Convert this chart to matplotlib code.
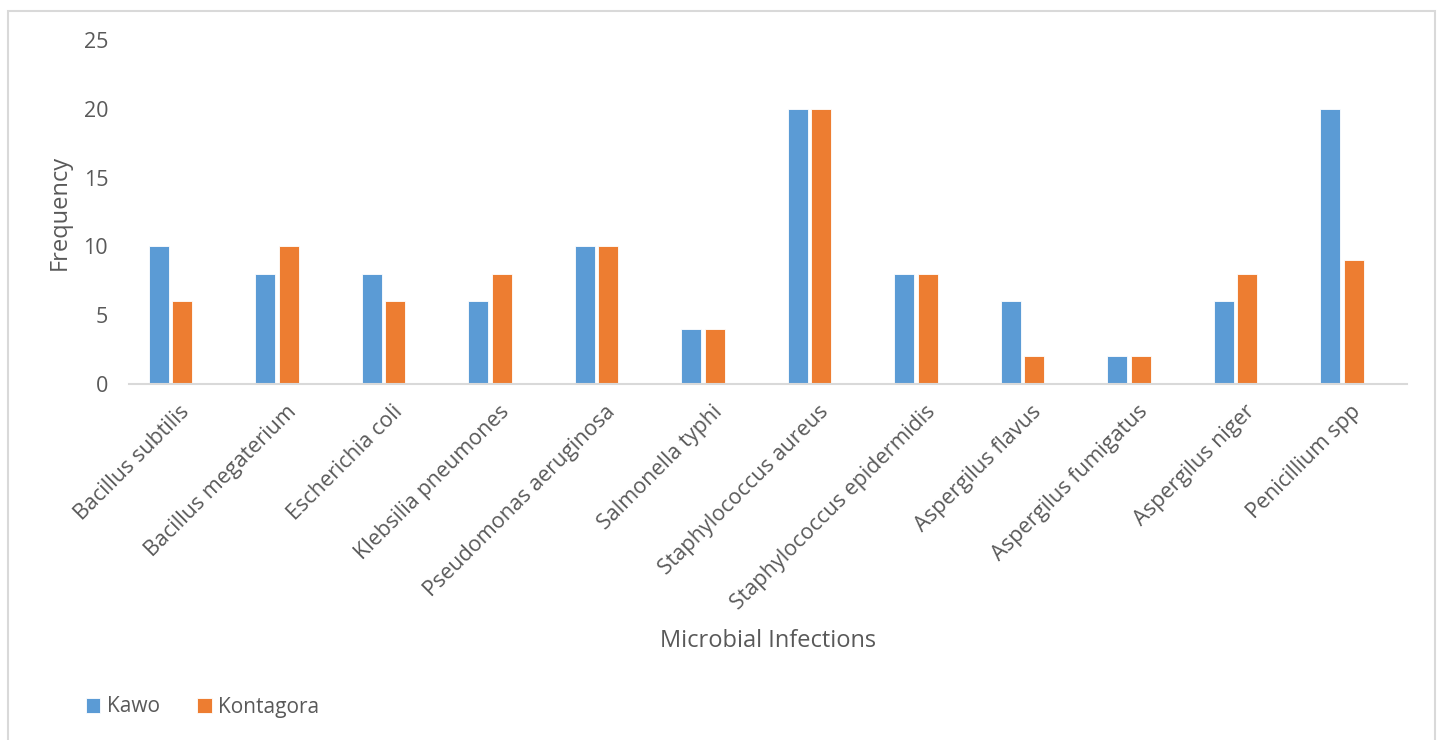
import numpy as np
import matplotlib
matplotlib.use('Agg')
import matplotlib.pyplot as plt
from matplotlib.patches import Rectangle
from matplotlib.transforms import ScaledTranslation

plt.rcParams['font.family'] = ['Open Sans', 'DejaVu Sans']

organisms = ['Bacillus subtilis', 'Bacillus megaterium', 'Escherichia coli',
             'Klebsilia pneumones', 'Pseudomonas aeruginosa', 'Salmonella typhi',
             'Staphylococcus aureus', 'Staphylococcus epidermidis', 'Aspergilus flavus',
             'Aspergilus fumigatus', 'Aspergilus niger', 'Penicillium spp']
kawo = [10, 8, 8, 6, 10, 4, 20, 8, 6, 2, 6, 20]
kontagora = [6, 10, 6, 8, 10, 4, 20, 8, 2, 2, 8, 9]

blue = '#5B9BD5'
orange = '#ED7D31'
txt = '#595959'
grid = '#D9D9D9'

fig = plt.figure(figsize=(14.43, 7.40), dpi=100)
W, H = 1443, 740
ax = fig.add_axes([129 / W, 1 - 384 / H, (1407 - 129) / W, (384 - 40) / H])

x = np.arange(len(organisms))
bw = 0.185
off = 0.11
ax.bar(x - off, kawo, bw, color=blue, edgecolor='white', linewidth=0.6, label='Kawo')
ax.bar(x + off, kontagora, bw, color=orange, edgecolor='white', linewidth=0.6, label='Kontagora')

ax.set_xlim(-0.39, 11.61)
ax.set_ylim(0, 25)
ax.set_yticks([0, 5, 10, 15, 20, 25])
ax.tick_params(axis='y', length=0, labelsize=15.5, labelcolor=txt, pad=15)
ax.tick_params(axis='x', length=0, labelsize=15.5, labelcolor=txt)
ax.set_xticks(x)
ax.set_xticklabels(organisms, rotation=45, ha='right', va='center',
                   rotation_mode='anchor')
shift = ScaledTranslation(16 / 100, -20 / 100, fig.dpi_scale_trans)
for lab in ax.get_xticklabels():
    lab.set_transform(lab.get_transform() + shift)

for s in ['top', 'right', 'left']:
    ax.spines[s].set_visible(False)
ax.spines['bottom'].set_color(grid)
ax.spines['bottom'].set_linewidth(1.5)

fig.text(60 / W, 1 - 212 / H, 'Frequency', rotation=90, ha='center', va='center',
         fontsize=17, color=txt)
fig.text(768 / W, 1 - 641 / H, 'Microbial Infections', ha='center', va='center',
         fontsize=17, color=txt)

leg = fig.legend(loc='center left', bbox_to_anchor=(67 / W, 1 - 707 / H), ncol=2,
                 frameon=False, fontsize=15, labelcolor=txt, handlelength=0.7,
                 handleheight=0.7, handletextpad=0.3, columnspacing=1.8)

# outer chart frame
fig.patches.append(Rectangle((8 / W, -0.05), (1435 - 8) / W, 1 - 11 / H + 0.05,
                             transform=fig.transFigure, fill=False,
                             edgecolor=grid, linewidth=1.5))

fig.savefig('out.png', dpi=100)
